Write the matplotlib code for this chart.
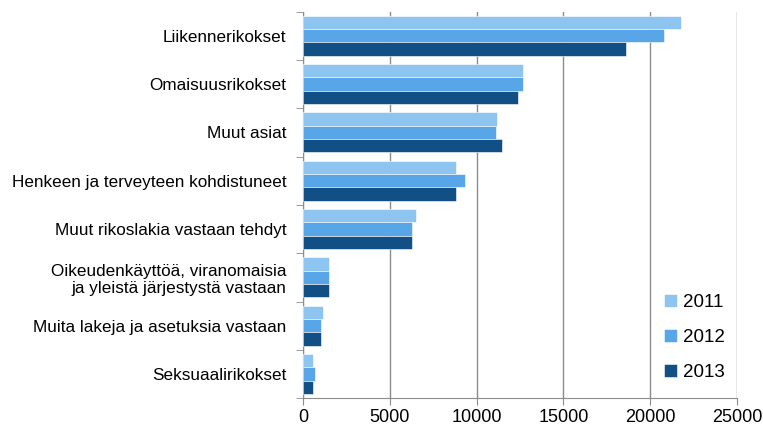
import numpy as np
import matplotlib
matplotlib.use("Agg")
import matplotlib.pyplot as plt
from matplotlib.ticker import FixedLocator

plt.rcParams["font.family"] = ["Liberation Sans", "DejaVu Sans"]

categories = ["Liikennerikokset", "Omaisuusrikokset", "Muut asiat",
              "Henkeen ja terveyteen kohdistuneet", "Muut rikoslakia vastaan tehdyt",
              "Oikeudenkäyttöä, viranomaisia\nja yleistä järjestystä vastaan",
              "Muita lakeja ja asetuksia vastaan", "Seksuaalirikokset"]
years = ["2011", "2012", "2013"]
v2011 = [21800, 12650, 11200, 8800, 6500, 1500, 1130, 580]
v2012 = [20800, 12700, 11100, 9350, 6300, 1500, 1040, 670]
v2013 = [18600, 12400, 11480, 8800, 6300, 1500, 1040, 580]
colors = ["#8EC4F0", "#58A6E8", "#124F85"]

fig = plt.figure(figsize=(7.63, 4.30), dpi=100)
ax = fig.add_axes([0.397, 0.074, 0.569, 0.899])

y = np.arange(len(categories))
w = 0.276
for k, (vals, lbl, c) in enumerate(zip([v2011, v2012, v2013], years, colors)):
    ax.barh(y + (k - 1) * w, vals, height=w, color=c, label=lbl,
            edgecolor="white", linewidth=0.4, zorder=3)

ax.set_ylim(len(categories) - 0.5, -0.5)
ax.set_xlim(0, 25000)
ax.set_xticks([0, 5000, 10000, 15000, 20000, 25000])
ax.set_yticks(y)
ax.set_yticklabels(categories, fontsize=12.3)
ax.yaxis.set_minor_locator(FixedLocator(np.arange(-0.5, len(categories), 1)))
ax.tick_params(axis="y", which="major", length=0, pad=12)
ax.tick_params(axis="y", which="minor", length=5, color="#8c8c8c")
ax.tick_params(axis="x", length=5, color="#8c8c8c", labelsize=13, pad=3)
for lab in ax.get_yticklabels():
    lab.set_horizontalalignment("right")
ax.grid(axis="x", color="#8c8c8c", lw=1, zorder=0)
for s in ("top", "right"):
    ax.spines[s].set_visible(False)
for s in ("left", "bottom"):
    ax.spines[s].set_color("#8c8c8c")

ax.legend(loc="lower right", bbox_to_anchor=(1.01, 0.0), frameon=False, fontsize=13.5,
          handlelength=0.7, handleheight=0.7, handletextpad=0.3, labelspacing=0.95)

fig.savefig("out.png", dpi=100)
